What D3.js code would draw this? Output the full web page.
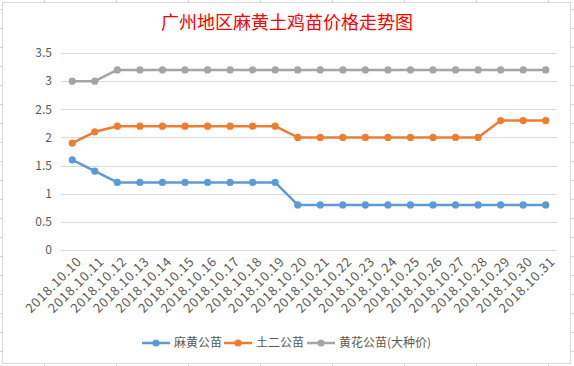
<!DOCTYPE html>
<html>
<head>
<meta charset="utf-8">
<script src="https://cdn.jsdelivr.net/npm/d3@7"></script>
<style>
  body { margin: 0; background: #fff; }
  text { font-family: "Noto Sans CJK SC", "Noto Sans", sans-serif; }
</style>
</head>
<body>
<script>
// données
const dates = ["2018.10.10","2018.10.11","2018.10.12","2018.10.13","2018.10.14","2018.10.15",
  "2018.10.16","2018.10.17","2018.10.18","2018.10.19","2018.10.20","2018.10.21","2018.10.22",
  "2018.10.23","2018.10.24","2018.10.25","2018.10.26","2018.10.27","2018.10.28","2018.10.29",
  "2018.10.30","2018.10.31"];
const mahuang = [1.6,1.4,1.2,1.2,1.2,1.2,1.2,1.2,1.2,1.2,0.8,0.8,0.8,0.8,0.8,0.8,0.8,0.8,0.8,0.8,0.8,0.8];
const tuer = [1.9,2.1,2.2,2.2,2.2,2.2,2.2,2.2,2.2,2.2,2.0,2.0,2.0,2.0,2.0,2.0,2.0,2.0,2.0,2.3,2.3,2.3];
const huanghua = [3.0,3.0,3.2,3.2,3.2,3.2,3.2,3.2,3.2,3.2,3.2,3.2,3.2,3.2,3.2,3.2,3.2,3.2,3.2,3.2,3.2,3.2];
const seriesNames = ["麻黄公苗", "土二公苗", "黄花公苗(大种价)"];
const yTicks = [0, 0.5, 1, 1.5, 2, 2.5, 3, 3.5];
const title = "广州地区麻黄土鸡苗价格走势图";

const width = 574, height = 366;
const colors = ["#5B9BD5", "#ED7D31", "#A5A5A5"];
const series = [mahuang, tuer, huanghua];

const svg = d3.select("body").append("svg")
    .attr("width", width)
    .attr("height", height);

// quadrillage du tableur autour du graphique
const grid = svg.append("g").style("stroke", "#d4d4d4").style("stroke-width", 1);
d3.range(9, 366, 19).forEach(y => {
    grid.append("line").attr("x1", 0).attr("x2", 2).attr("y1", y + 0.5).attr("y2", y + 0.5);
    grid.append("line").attr("x1", 571).attr("x2", 574).attr("y1", y + 0.5).attr("y2", y + 0.5);
});
d3.range(44, 574, 72).forEach(x => {
    grid.append("line").attr("x1", x + 0.5).attr("x2", x + 0.5).attr("y1", 0).attr("y2", 2);
    grid.append("line").attr("x1", x + 0.5).attr("x2", x + 0.5).attr("y1", 364).attr("y2", 366);
});

// cadre du graphique
svg.append("rect")
    .attr("x", 2.5).attr("y", 2.5)
    .attr("width", 568).attr("height", 361)
    .style("fill", "#fff")
    .style("stroke", "#d9d9d9");

// titre
svg.append("text")
    .attr("x", 287).attr("y", 29)
    .attr("text-anchor", "middle")
    .style("font-size", "18px")
    .style("fill", "#FF0000")
    .text(title);

// échelles
const x = d3.scaleBand().domain(dates).range([61, 557]);
const y = d3.scaleLinear().domain([0, 3.5]).range([250, 53]);

// lignes horizontales
svg.append("g").selectAll("line")
    .data(yTicks)
    .enter()
    .append("line")
    .attr("x1", 61).attr("x2", 557)
    .attr("y1", d => Math.round(y(d)) + 0.5)
    .attr("y2", d => Math.round(y(d)) + 0.5)
    .style("stroke", "#d9d9d9")
    .style("stroke-width", 1);

// axe y
const yAxis = svg.append("g")
    .attr("transform", "translate(52,0)")
    .call(d3.axisLeft(y).tickValues(yTicks).tickSize(0).tickPadding(0).tickFormat(d3.format("")));
yAxis.select(".domain").remove();
yAxis.selectAll("text")
    .style("font-size", "12px")
    .style("fill", "#595959")
    .style("font-family", "\"Noto Sans CJK SC\", sans-serif");

// axe x (étiquettes inclinées)
svg.append("g").selectAll("text")
    .data(dates)
    .enter()
    .append("text")
    .attr("transform", d => `translate(${x(d) + x.bandwidth() / 2 + 7},${259}) rotate(-45)`)
    .attr("text-anchor", "end")
    .attr("dy", "0.35em")
    .style("font-size", "13px")
    .style("letter-spacing", "0.8px")
    .style("fill", "#595959")
    .text(d => d);

// courbes
const line = d3.line()
    .x((d, i) => x(dates[i]) + x.bandwidth() / 2)
    .y(d => y(d));

series.forEach((values, k) => {
    const g = svg.append("g");
    g.append("path")
        .datum(values)
        .attr("d", line)
        .style("fill", "none")
        .style("stroke", colors[k])
        .style("stroke-width", 2.5)
        .style("stroke-linejoin", "round");
    g.selectAll("circle")
        .data(values)
        .enter()
        .append("circle")
        .attr("cx", (d, i) => x(dates[i]) + x.bandwidth() / 2)
        .attr("cy", d => y(d))
        .attr("r", 3.6)
        .style("fill", colors[k]);
});

// légende
const legendX = [142, 224, 307];
const legend = svg.append("g");
seriesNames.forEach((name, k) => {
    const lg = legend.append("g").attr("transform", `translate(${legendX[k]},343)`);
    lg.append("line")
        .attr("x1", 0).attr("x2", 28)
        .style("stroke", colors[k])
        .style("stroke-width", 2.5);
    lg.append("circle")
        .attr("cx", 14).attr("r", 3.6)
        .style("fill", colors[k]);
    lg.append("text")
        .attr("x", 32).attr("dy", "0.35em")
        .style("font-size", "12px")
        .style("fill", "#595959")
        .text(name);
});
</script>
</body>
</html>
